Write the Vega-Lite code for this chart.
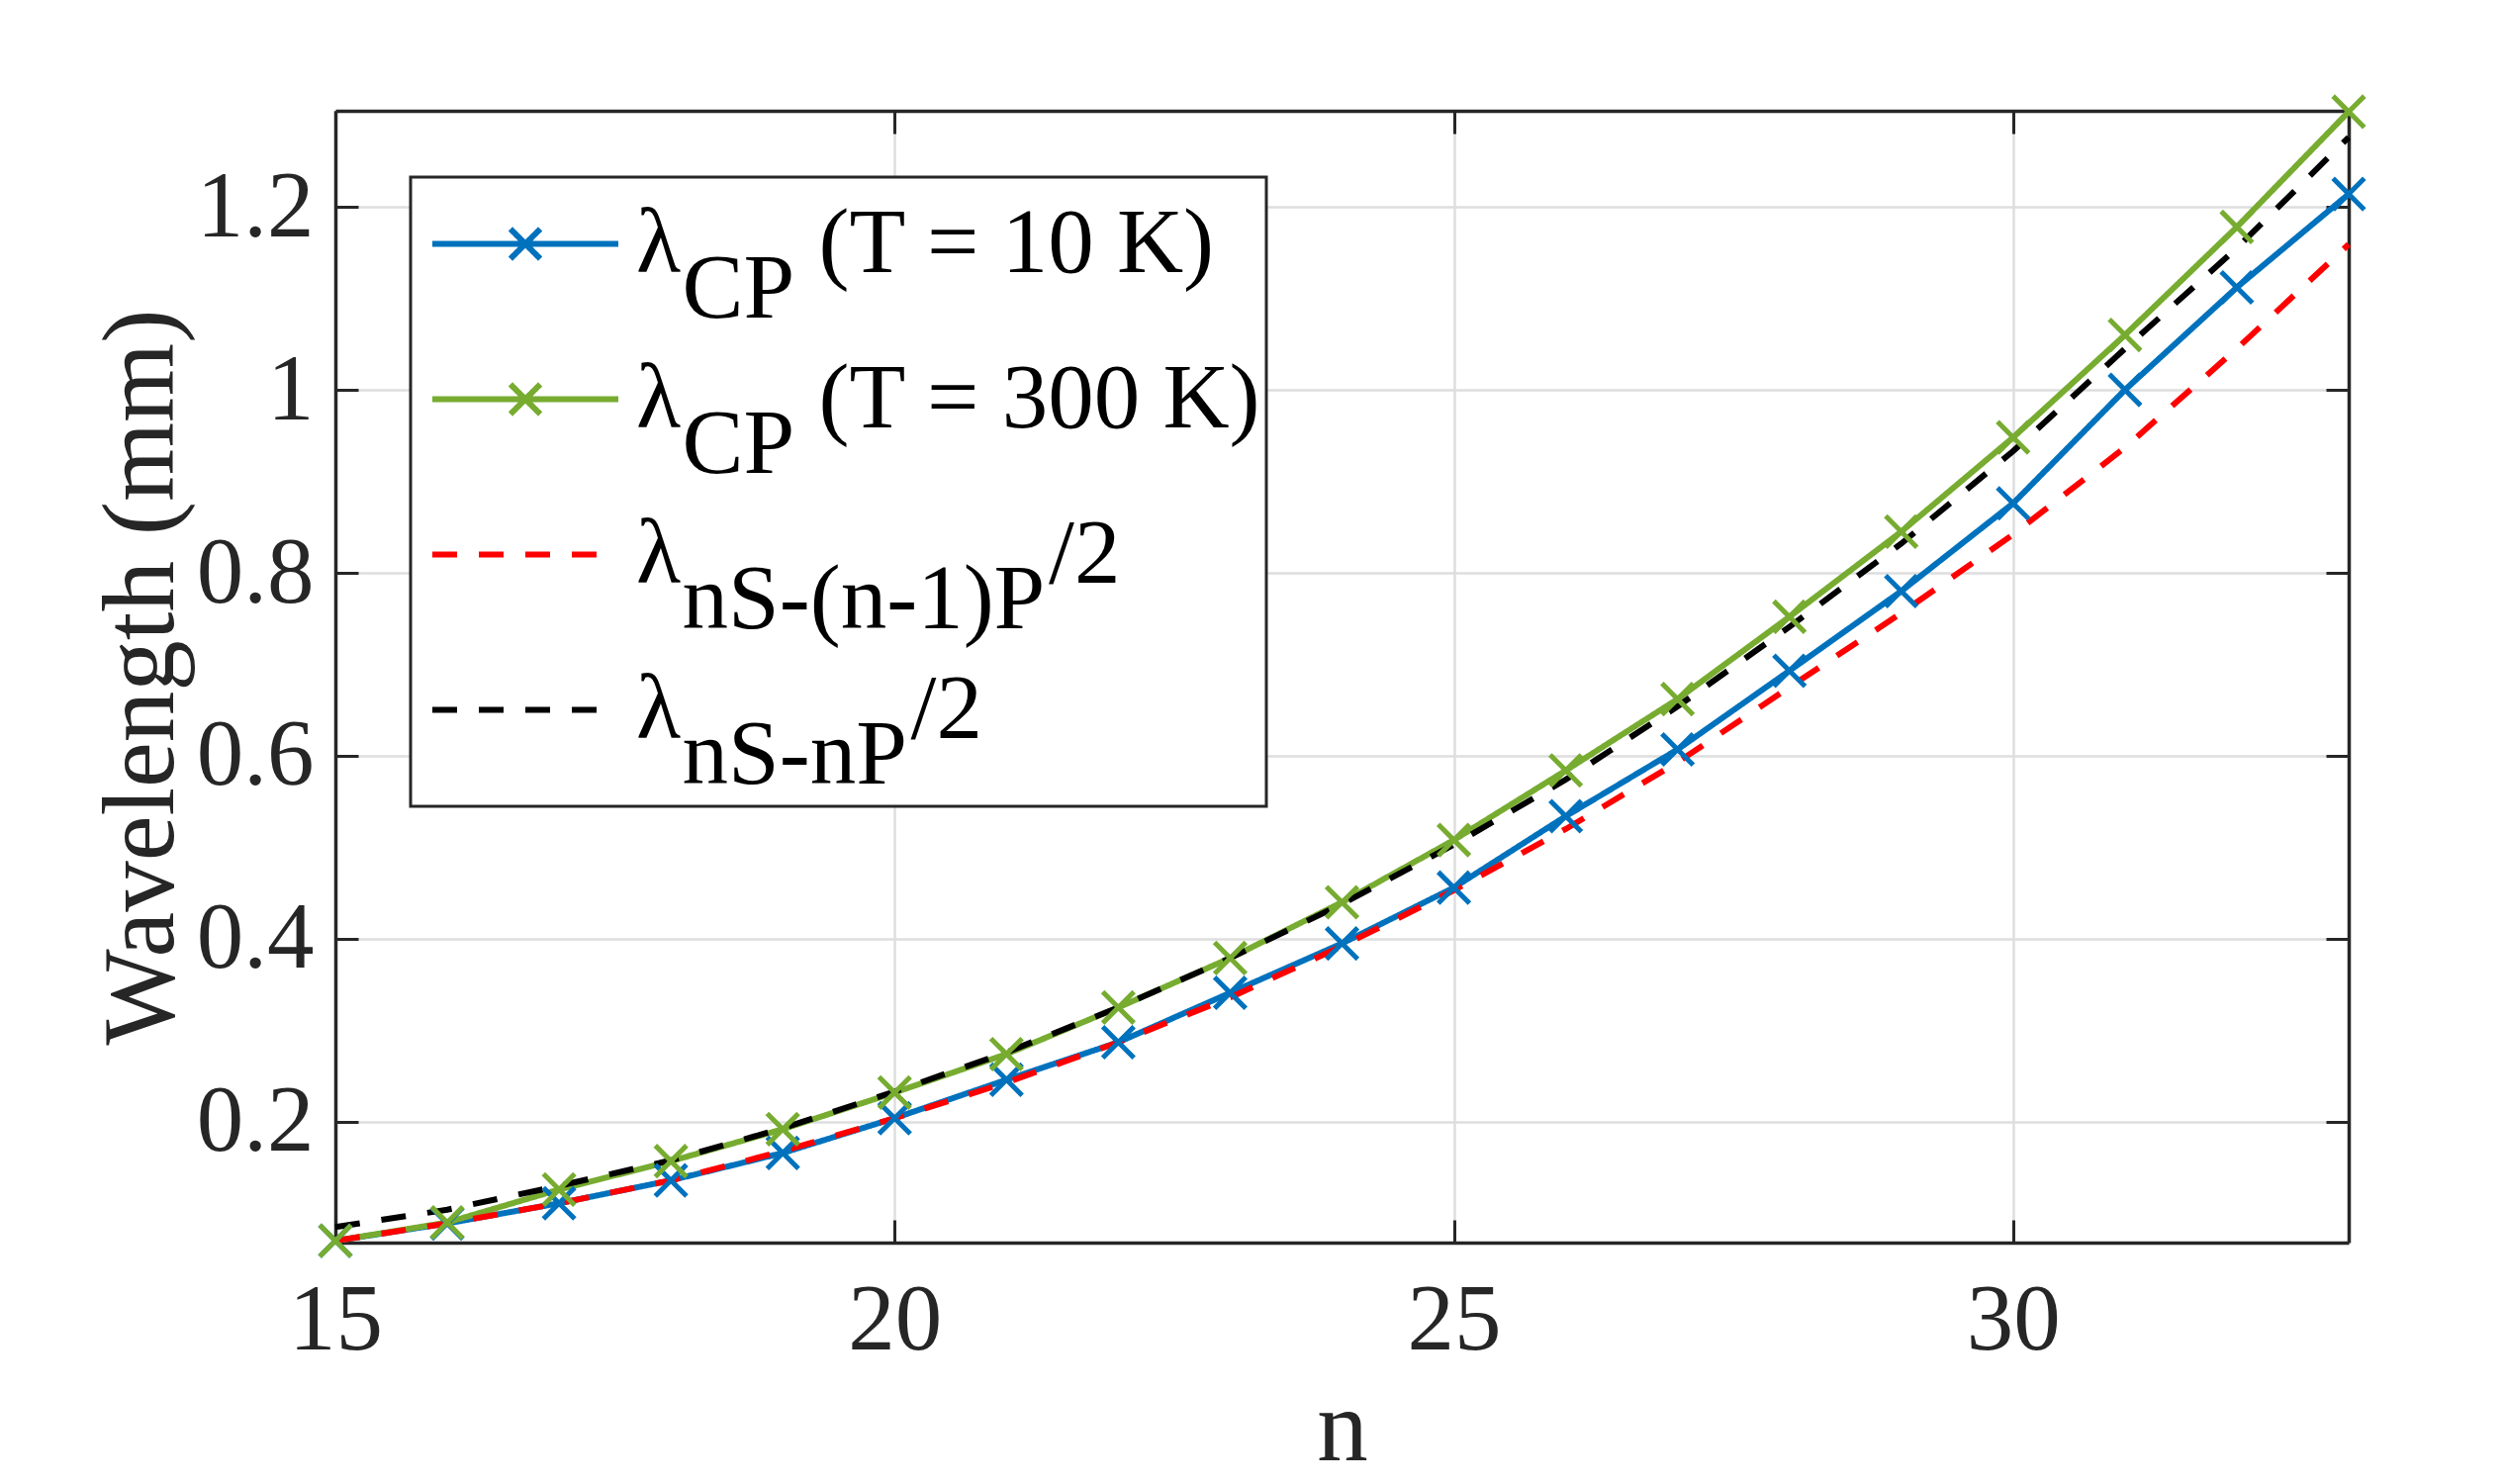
{
  "$schema": "https://vega.github.io/schema/vega-lite/v6.json",
  "width": 2035,
  "height": 1144,
  "autosize": {"type": "none"},
  "padding": {"left": 339, "top": 112, "right": 158, "bottom": 244},
  "background": "white",
  "data": {
    "values": [
      {"n": 15, "wavelength": 0.070, "series": "CP10"},
      {"n": 16, "wavelength": 0.089, "series": "CP10"},
      {"n": 17, "wavelength": 0.111, "series": "CP10"},
      {"n": 18, "wavelength": 0.136, "series": "CP10"},
      {"n": 19, "wavelength": 0.166, "series": "CP10"},
      {"n": 20, "wavelength": 0.204, "series": "CP10"},
      {"n": 21, "wavelength": 0.246, "series": "CP10"},
      {"n": 22, "wavelength": 0.287, "series": "CP10"},
      {"n": 23, "wavelength": 0.341, "series": "CP10"},
      {"n": 24, "wavelength": 0.395, "series": "CP10"},
      {"n": 25, "wavelength": 0.456, "series": "CP10"},
      {"n": 26, "wavelength": 0.534, "series": "CP10"},
      {"n": 27, "wavelength": 0.607, "series": "CP10"},
      {"n": 28, "wavelength": 0.693, "series": "CP10"},
      {"n": 29, "wavelength": 0.780, "series": "CP10"},
      {"n": 30, "wavelength": 0.876, "series": "CP10"},
      {"n": 31, "wavelength": 1.000, "series": "CP10"},
      {"n": 32, "wavelength": 1.112, "series": "CP10"},
      {"n": 33, "wavelength": 1.214, "series": "CP10"},
      {"n": 15, "wavelength": 0.070, "series": "CP300"},
      {"n": 16, "wavelength": 0.090, "series": "CP300"},
      {"n": 17, "wavelength": 0.126, "series": "CP300"},
      {"n": 18, "wavelength": 0.157, "series": "CP300"},
      {"n": 19, "wavelength": 0.192, "series": "CP300"},
      {"n": 20, "wavelength": 0.232, "series": "CP300"},
      {"n": 21, "wavelength": 0.274, "series": "CP300"},
      {"n": 22, "wavelength": 0.325, "series": "CP300"},
      {"n": 23, "wavelength": 0.379, "series": "CP300"},
      {"n": 24, "wavelength": 0.440, "series": "CP300"},
      {"n": 25, "wavelength": 0.508, "series": "CP300"},
      {"n": 26, "wavelength": 0.584, "series": "CP300"},
      {"n": 27, "wavelength": 0.662, "series": "CP300"},
      {"n": 28, "wavelength": 0.752, "series": "CP300"},
      {"n": 29, "wavelength": 0.845, "series": "CP300"},
      {"n": 30, "wavelength": 0.948, "series": "CP300"},
      {"n": 31, "wavelength": 1.060, "series": "CP300"},
      {"n": 32, "wavelength": 1.178, "series": "CP300"},
      {"n": 33, "wavelength": 1.304, "series": "CP300"},
      {"n": 15, "wavelength": 0.070, "series": "nSn1P"},
      {"n": 16, "wavelength": 0.089, "series": "nSn1P"},
      {"n": 17, "wavelength": 0.111, "series": "nSn1P"},
      {"n": 18, "wavelength": 0.136, "series": "nSn1P"},
      {"n": 19, "wavelength": 0.168, "series": "nSn1P"},
      {"n": 20, "wavelength": 0.204, "series": "nSn1P"},
      {"n": 21, "wavelength": 0.243, "series": "nSn1P"},
      {"n": 22, "wavelength": 0.287, "series": "nSn1P"},
      {"n": 23, "wavelength": 0.336, "series": "nSn1P"},
      {"n": 24, "wavelength": 0.392, "series": "nSn1P"},
      {"n": 25, "wavelength": 0.453, "series": "nSn1P"},
      {"n": 26, "wavelength": 0.520, "series": "nSn1P"},
      {"n": 27, "wavelength": 0.593, "series": "nSn1P"},
      {"n": 28, "wavelength": 0.675, "series": "nSn1P"},
      {"n": 29, "wavelength": 0.756, "series": "nSn1P"},
      {"n": 30, "wavelength": 0.842, "series": "nSn1P"},
      {"n": 31, "wavelength": 0.937, "series": "nSn1P"},
      {"n": 32, "wavelength": 1.045, "series": "nSn1P"},
      {"n": 33, "wavelength": 1.159, "series": "nSn1P"},
      {"n": 15, "wavelength": 0.085, "series": "nSnP"},
      {"n": 16, "wavelength": 0.104, "series": "nSnP"},
      {"n": 17, "wavelength": 0.130, "series": "nSnP"},
      {"n": 18, "wavelength": 0.158, "series": "nSnP"},
      {"n": 19, "wavelength": 0.193, "series": "nSnP"},
      {"n": 20, "wavelength": 0.233, "series": "nSnP"},
      {"n": 21, "wavelength": 0.276, "series": "nSnP"},
      {"n": 22, "wavelength": 0.325, "series": "nSnP"},
      {"n": 23, "wavelength": 0.379, "series": "nSnP"},
      {"n": 24, "wavelength": 0.438, "series": "nSnP"},
      {"n": 25, "wavelength": 0.503, "series": "nSnP"},
      {"n": 26, "wavelength": 0.574, "series": "nSnP"},
      {"n": 27, "wavelength": 0.654, "series": "nSnP"},
      {"n": 28, "wavelength": 0.741, "series": "nSnP"},
      {"n": 29, "wavelength": 0.832, "series": "nSnP"},
      {"n": 30, "wavelength": 0.933, "series": "nSnP"},
      {"n": 31, "wavelength": 1.045, "series": "nSnP"},
      {"n": 32, "wavelength": 1.155, "series": "nSnP"},
      {"n": 33, "wavelength": 1.276, "series": "nSnP"}
    ]
  },
  "layer": [
    {
      "mark": {"type": "line", "strokeWidth": 6},
      "encoding": {
        "x": {
          "field": "n",
          "type": "quantitative",
          "scale": {"domain": [15, 33], "nice": false, "zero": false},
          "axis": {"orient": "bottom", "values": [15, 20, 25, 30], "title": "n", "labelFlush": false, "labelPadding": 55, "titlePadding": 12}
        },
        "y": {
          "field": "wavelength",
          "type": "quantitative",
          "scale": {"domain": [0.068, 1.305], "nice": false, "zero": false},
          "axis": {"orient": "left", "values": [0.2, 0.4, 0.6, 0.8, 1, 1.2], "format": "~g", "title": "Wavelength (mm)", "labelPadding": 45, "titlePadding": 2}
        },
        "color": {
          "field": "series",
          "type": "nominal",
          "scale": {"domain": ["CP10", "CP300", "nSn1P", "nSnP"], "range": ["#0072BD", "#77AC30", "#FF0000", "#000000"]},
          "legend": {
            "title": null,
            "labelExpr": "datum.label == 'CP10' ? ['λ\u00a0\u00a0\u00a0\u00a0\u00a0\u00a0(T = 10 K)', '\u200b\u00a0\u00a0CP'] : datum.label == 'CP300' ? ['λ\u00a0\u00a0\u00a0\u00a0\u00a0\u00a0(T = 300 K)\u00a0', '\u200b\u00a0\u00a0CP'] : datum.label == 'nSn1P' ? ['λ\u00a0\u00a0\u00a0\u00a0\u00a0\u00a0\u00a0\u00a0\u00a0\u00a0\u00a0\u00a0\u00a0\u00a0\u00a0\u00a0/2', '\u200b\u00a0\u00a0nS-(n-1)P'] : ['λ\u00a0\u00a0\u00a0\u00a0\u00a0\u00a0\u00a0\u00a0\u00a0\u00a0/2', '\u200b\u00a0\u00a0nS-nP']"
          }
        },
        "strokeDash": {
          "field": "series",
          "type": "nominal",
          "scale": {"domain": ["CP10", "CP300", "nSn1P", "nSnP"], "range": [[1, 0], [1, 0], [25, 22], [25, 22]]},
          "legend": {
            "title": null,
            "labelExpr": "datum.label == 'CP10' ? ['λ\u00a0\u00a0\u00a0\u00a0\u00a0\u00a0(T = 10 K)', '\u200b\u00a0\u00a0CP'] : datum.label == 'CP300' ? ['λ\u00a0\u00a0\u00a0\u00a0\u00a0\u00a0(T = 300 K)\u00a0', '\u200b\u00a0\u00a0CP'] : datum.label == 'nSn1P' ? ['λ\u00a0\u00a0\u00a0\u00a0\u00a0\u00a0\u00a0\u00a0\u00a0\u00a0\u00a0\u00a0\u00a0\u00a0\u00a0\u00a0/2', '\u200b\u00a0\u00a0nS-(n-1)P'] : ['λ\u00a0\u00a0\u00a0\u00a0\u00a0\u00a0\u00a0\u00a0\u00a0\u00a0/2', '\u200b\u00a0\u00a0nS-nP']"
          }
        }
      }
    },
    {
      "transform": [{"filter": "datum.series == 'CP10' || datum.series == 'CP300'"}],
      "mark": {"type": "point", "shape": "M-1,-1L1,1M-1,1L1,-1", "size": 1000, "strokeWidth": 5, "filled": false, "opacity": 1},
      "encoding": {
        "x": {"field": "n", "type": "quantitative", "axis": null},
        "y": {"field": "wavelength", "type": "quantitative", "axis": null},
        "color": {"field": "series", "type": "nominal"}
      }
    },
    {
      "transform": [{"filter": "false"}],
      "mark": {"type": "point", "filled": false, "strokeWidth": 6},
      "encoding": {
        "x": {
          "field": "n",
          "type": "quantitative",
          "axis": {"orient": "top", "values": [15, 20, 25, 30], "labels": false, "grid": false, "title": null}
        },
        "y": {
          "field": "wavelength",
          "type": "quantitative",
          "axis": {"orient": "right", "values": [0.2, 0.4, 0.6, 0.8, 1, 1.2], "labels": false, "grid": false, "title": null}
        },
        "color": {"field": "series", "type": "nominal"},
        "shape": {
          "field": "series",
          "type": "nominal",
          "scale": {
            "domain": ["CP10", "CP300", "nSn1P", "nSnP"],
            "range": [
              "M-1,0H1M-0.16,-0.16L0.16,0.16M-0.16,0.16L0.16,-0.16",
              "M-1,0H1M-0.16,-0.16L0.16,0.16M-0.16,0.16L0.16,-0.16",
              "M-1,0H1",
              "M-1,0H1"
            ]
          },
          "legend": {
            "title": null,
            "labelExpr": "datum.label == 'CP10' ? ['λ\u00a0\u00a0\u00a0\u00a0\u00a0\u00a0(T = 10 K)', '\u200b\u00a0\u00a0CP'] : datum.label == 'CP300' ? ['λ\u00a0\u00a0\u00a0\u00a0\u00a0\u00a0(T = 300 K)\u00a0', '\u200b\u00a0\u00a0CP'] : datum.label == 'nSn1P' ? ['λ\u00a0\u00a0\u00a0\u00a0\u00a0\u00a0\u00a0\u00a0\u00a0\u00a0\u00a0\u00a0\u00a0\u00a0\u00a0\u00a0/2', '\u200b\u00a0\u00a0nS-(n-1)P'] : ['λ\u00a0\u00a0\u00a0\u00a0\u00a0\u00a0\u00a0\u00a0\u00a0\u00a0/2', '\u200b\u00a0\u00a0nS-nP']"
          }
        }
      }
    }
  ],
  "resolve": {"axis": {"x": "independent", "y": "independent"}},
  "config": {
    "font": "Liberation Serif",
    "view": {"stroke": null},
    "axis": {
      "labelFont": "Liberation Serif",
      "labelFontSize": 95,
      "labelColor": "#262626",
      "titleFont": "Liberation Serif",
      "titleFontSize": 103,
      "titleFontWeight": "normal",
      "titleColor": "#262626",
      "gridColor": "#dedede",
      "gridWidth": 2.5,
      "tickColor": "#262626",
      "tickWidth": 3,
      "tickSize": -23,
      "domainColor": "#262626",
      "domainWidth": 3.5
    },
    "legend": {
      "orient": "none",
      "legendX": 76,
      "legendY": 67,
      "padding": 4,
      "fillColor": "white",
      "strokeColor": "#262626",
      "strokeWidth": 3,
      "labelFont": "Liberation Serif",
      "labelFontSize": 93,
      "labelColor": "black",
      "labelLimit": 0,
      "labelOffset": 15,
      "labelBaseline": "middle",
      "symbolSize": 35344,
      "symbolOffset": 15,
      "symbolStrokeWidth": 6,
      "symbolFillColor": "transparent",
      "clipHeight": 127,
      "rowPadding": 0
    },
    "style": {"guide-label": {"lineHeight": 46}}
  }
}
